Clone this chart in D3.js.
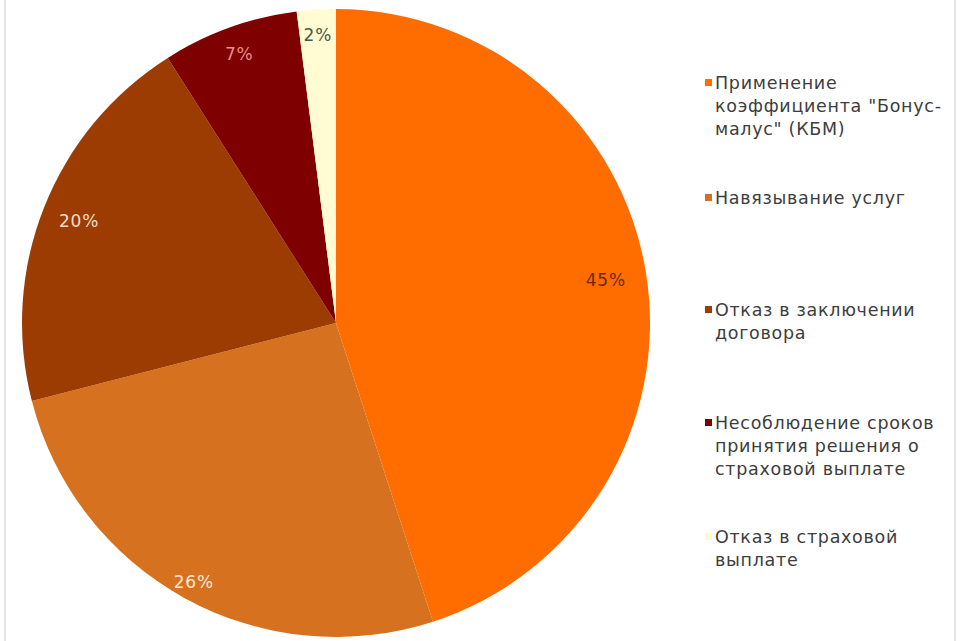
<!DOCTYPE html>
<html>
<head>
<meta charset="utf-8">
<script src="https://cdn.jsdelivr.net/npm/d3@7"></script>
<style>
  html, body { margin: 0; padding: 0; background: #ffffff; }
  svg { display: block; }
</style>
</head>
<body>
<svg id="chart" width="969" height="641"></svg>
<script>
// Categories of complaints and their shares, in percent
const categories = [
  "Применение коэффициента \"Бонус-малус\" (КБМ)",
  "Навязывание услуг",
  "Отказ в заключении договора",
  "Несоблюдение сроков принятия решения о страховой выплате",
  "Отказ в страховой выплате"
];
const legendLines = [
  ["Применение", "коэффициента \"Бонус-", "малус\" (КБМ)"],
  ["Навязывание услуг"],
  ["Отказ в заключении", "договора"],
  ["Несоблюдение сроков", "принятия решения о", "страховой выплате"],
  ["Отказ в страховой", "выплате"]
];
const shares = [45, 26, 20, 7, 2];
const sliceColors = ["#ff6d00", "#d6721f", "#9c3b02", "#7e0000", "#fffbd2"];
const labelColors = ["#6b2a00", "#fde9d6", "#f3dccd", "#f08a8a", "#4a5a45"];

const svg = d3.select("#chart");
const font = "'DejaVu Sans', Verdana, sans-serif";

// chart frame
svg.append("rect")
  .attr("x", 5).attr("y", -5)
  .attr("width", 950).attr("height", 660)
  .attr("fill", "none").attr("stroke", "#dcdcdc").attr("stroke-width", 1.5);

const cx = 336, cy = 323, r = 314;
const g = svg.append("g").attr("transform", `translate(${cx},${cy})`);

const pie = d3.pie().value(d => d).sort(null);
const arcs = pie(shares);
const arc = d3.arc().innerRadius(0).outerRadius(r);

g.selectAll("path.slice")
  .data(arcs)
  .join("path")
  .attr("class", "slice")
  .attr("d", arc)
  .attr("fill", (d, i) => sliceColors[i]);

// percentage labels, pushed out toward the rim
const labelRadius = [0.87, 0.94, 0.88, 0.91, 0.92];
g.selectAll("text.pct")
  .data(arcs)
  .join("text")
  .attr("class", "pct")
  .attr("transform", (d, i) => {
    const a = (d.startAngle + d.endAngle) / 2;
    const rr = r * labelRadius[i];
    return `translate(${Math.sin(a) * rr},${-Math.cos(a) * rr})`;
  })
  .attr("text-anchor", "middle")
  .attr("dominant-baseline", "central")
  .attr("font-family", font)
  .attr("font-size", 17)
  .attr("letter-spacing", 0.8)
  .attr("fill", (d, i) => labelColors[i])
  .text(d => d.data + "%");

// legend
const legendTop = [83, 198, 310, 423, 537];
const lineH = 23;
const lg = svg.append("g");
categories.forEach((c, i) => {
  const item = lg.append("g").attr("transform", `translate(705,${legendTop[i]})`);
  item.append("rect")
    .attr("x", 0).attr("y", -4)
    .attr("width", 7).attr("height", 7)
    .attr("fill", sliceColors[i]);
  legendLines[i].forEach((ln, j) => {
    item.append("text")
      .attr("x", 10).attr("y", j * lineH)
      .attr("dominant-baseline", "central")
      .attr("font-family", font)
      .attr("font-size", 17.5)
      .attr("letter-spacing", 0.7)
      .attr("fill", "#3d3d3d")
      .text(ln);
  });
});
</script>
</body>
</html>
